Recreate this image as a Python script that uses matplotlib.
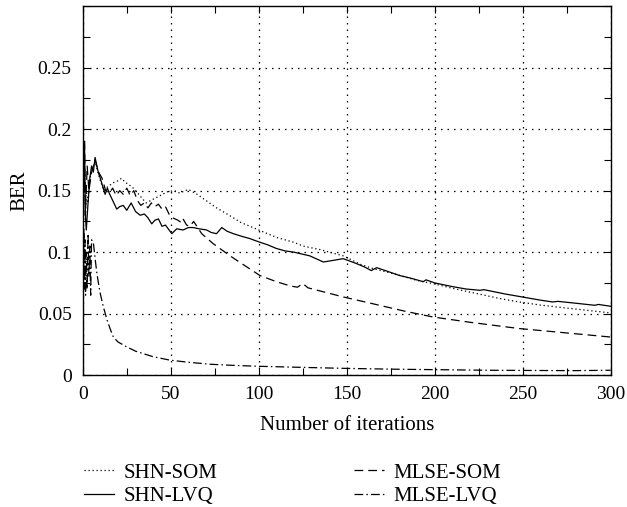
import matplotlib
matplotlib.use("Agg")
import matplotlib.pyplot as plt
from matplotlib.ticker import MultipleLocator

plt.rcParams['font.family'] = ['Liberation Serif', 'DejaVu Serif']

# BER curves over training iterations
shn_som_x = [0, 0.5, 1, 1.5, 2, 3, 4, 5, 6, 7, 8, 10, 12, 14, 16, 18, 20, 22, 24, 26, 28,
             30, 33, 36, 40, 44, 48, 52, 55, 60, 65, 70, 76, 82, 90, 100, 110, 120, 125,
             135, 148, 158, 165, 178, 190, 199, 212, 225, 238, 248, 260, 272, 285, 300]
shn_som_y = [0.19, 0.13, 0.18, 0.125, 0.15, 0.14, 0.16, 0.165, 0.17, 0.174, 0.168, 0.158,
             0.15, 0.153, 0.155, 0.157, 0.158, 0.16, 0.157, 0.155, 0.153, 0.15, 0.145, 0.14,
             0.143, 0.146, 0.149, 0.15, 0.148, 0.151, 0.147, 0.142, 0.136, 0.131, 0.124,
             0.118, 0.112, 0.108, 0.105, 0.102, 0.097, 0.09, 0.0866, 0.082, 0.077, 0.0744,
             0.07, 0.066, 0.062, 0.0595, 0.057, 0.055, 0.053, 0.0506]

shn_lvq_x = [0, 0.5, 1, 1.5, 2, 3, 4, 5, 6, 7, 8, 9, 10, 11, 12.7, 14, 15, 17, 19.3, 21, 23,
             25, 27.5, 30, 32.6, 35, 37, 39.2, 41, 43, 45, 47, 50.6, 53.4, 57, 60, 62.8, 66,
             70.4, 73, 76, 79, 82, 85.6, 90, 95, 100.7, 105, 110, 115, 120, 123.5, 129, 136.7,
             141, 148, 155, 160, 164, 167, 172, 180, 186, 193.5, 195, 200, 210, 218, 225.7,
             228, 240, 250, 260, 267, 270, 280, 291, 293, 300]
shn_lvq_y = [0.2, 0.15, 0.19, 0.13, 0.118, 0.14, 0.16, 0.17, 0.165, 0.177, 0.17, 0.164,
             0.16, 0.155, 0.147, 0.152, 0.148, 0.142, 0.135, 0.137, 0.138, 0.134, 0.14,
             0.133, 0.13, 0.131, 0.128, 0.123, 0.126, 0.127, 0.121, 0.122, 0.115, 0.119,
             0.118, 0.12, 0.12, 0.119, 0.118, 0.116, 0.115, 0.12, 0.117, 0.115, 0.113,
             0.111, 0.108, 0.106, 0.103, 0.101, 0.1, 0.0988, 0.097, 0.092, 0.093, 0.0947,
             0.091, 0.088, 0.085, 0.0874, 0.085, 0.081, 0.079, 0.076, 0.0775, 0.075, 0.072,
             0.07, 0.069, 0.0695, 0.066, 0.0635, 0.061, 0.0595, 0.06, 0.0585, 0.0568,
             0.0575, 0.056]

mlse_som_x = [0, 0.5, 1, 1.5, 2.5, 3.5, 5, 7, 9, 11, 13, 15, 17, 19, 21, 23, 25, 27, 29,
              31, 33, 35, 37, 39, 41, 43, 45, 47, 49, 51, 54, 56, 57, 59, 61, 63, 67.6, 74,
              83.7, 90, 100.7, 110, 118, 122, 125, 128, 148, 165, 183, 199, 220, 248, 270, 300]
mlse_som_y = [0.2, 0.15, 0.19, 0.13, 0.17, 0.15, 0.165, 0.175, 0.165, 0.16, 0.15, 0.148,
              0.152, 0.146, 0.15, 0.147, 0.152, 0.146, 0.15, 0.142, 0.138, 0.14, 0.136,
              0.14, 0.137, 0.139, 0.135, 0.137, 0.131, 0.128, 0.126, 0.124, 0.127, 0.122,
              0.121, 0.125, 0.115, 0.107, 0.097, 0.091, 0.081, 0.076, 0.0725, 0.0715,
              0.0745, 0.071, 0.0636, 0.058, 0.052, 0.0473, 0.043, 0.0379, 0.035, 0.031]

mlse_lvq_x = [0, 0.3, 0.6, 1, 1.3, 1.6, 2, 2.5, 3, 3.5, 4, 4.5, 5, 6, 7, 8, 9, 10, 11.7,
              14, 16, 17.4, 20, 25, 30, 34.4, 40, 49.6, 60, 72.3, 85, 100.7, 129, 150, 180,
              200, 230, 260, 280, 300]
mlse_lvq_y = [0.21, 0.06, 0.12, 0.07, 0.11, 0.065, 0.1, 0.07, 0.115, 0.08, 0.105, 0.065,
              0.11, 0.108, 0.095, 0.083, 0.074, 0.066, 0.0555, 0.044, 0.036, 0.031, 0.027,
              0.023, 0.0195, 0.0175, 0.015, 0.0122, 0.0105, 0.0089, 0.008, 0.0072, 0.0062,
              0.0055, 0.0048, 0.0045, 0.004, 0.0038, 0.0037, 0.004]

fig = plt.figure(figsize=(6.27, 5.07), dpi=100)
ax = fig.add_axes([0.132, 0.26, 0.842, 0.728])

ax.plot(shn_som_x, shn_som_y, color='black', linewidth=0.9,
        linestyle=(0, (1, 2.2)), label='SHN-SOM')
ax.plot(shn_lvq_x, shn_lvq_y, color='black', linewidth=0.9,
        linestyle='-', label='SHN-LVQ')
ax.plot(mlse_som_x, mlse_som_y, color='black', linewidth=0.9,
        linestyle=(0, (7, 4)), label='MLSE-SOM')
ax.plot(mlse_lvq_x, mlse_lvq_y, color='black', linewidth=0.9,
        linestyle=(0, (7, 2.5, 1.2, 2.5)), label='MLSE-LVQ')

ax.set_xlim(0, 300)
ax.set_ylim(0, 0.3)
ax.set_xticks([0, 50, 100, 150, 200, 250, 300])
ax.set_yticks([0, 0.05, 0.1, 0.15, 0.2, 0.25])
ax.set_yticklabels(['0', '0.05', '0.1', '0.15', '0.2', '0.25'])
ax.xaxis.set_minor_locator(MultipleLocator(25))
ax.yaxis.set_minor_locator(MultipleLocator(0.025))
ax.tick_params(which='both', direction='in', top=True, right=True,
               labelsize=14, width=0.8)
ax.tick_params(which='major', length=5, pad=8)
ax.tick_params(which='minor', length=5)
ax.grid(True, which='major', color='black', linestyle=(0, (1.2, 4)), linewidth=0.9)
for side in ax.spines.values():
    side.set_linewidth(1.0)

ax.set_xlabel('Number of iterations', fontsize=15, labelpad=9)
ax.set_ylabel('BER', fontsize=15, labelpad=6)

# two legend columns placed independently below the axes
handles, labels = ax.get_legend_handles_labels()
leg_kw = dict(loc='upper left', frameon=False, fontsize=15, handlelength=1.45,
              handletextpad=0.45, labelspacing=0.18, borderaxespad=0, borderpad=0)
fig.legend(handles[:2], labels[:2], bbox_to_anchor=(84 / 627, 1 - 463 / 507), **leg_kw)
fig.legend(handles[2:], labels[2:], bbox_to_anchor=(354 / 627, 1 - 463 / 507), **leg_kw)

fig.savefig('out.png', dpi=100)
